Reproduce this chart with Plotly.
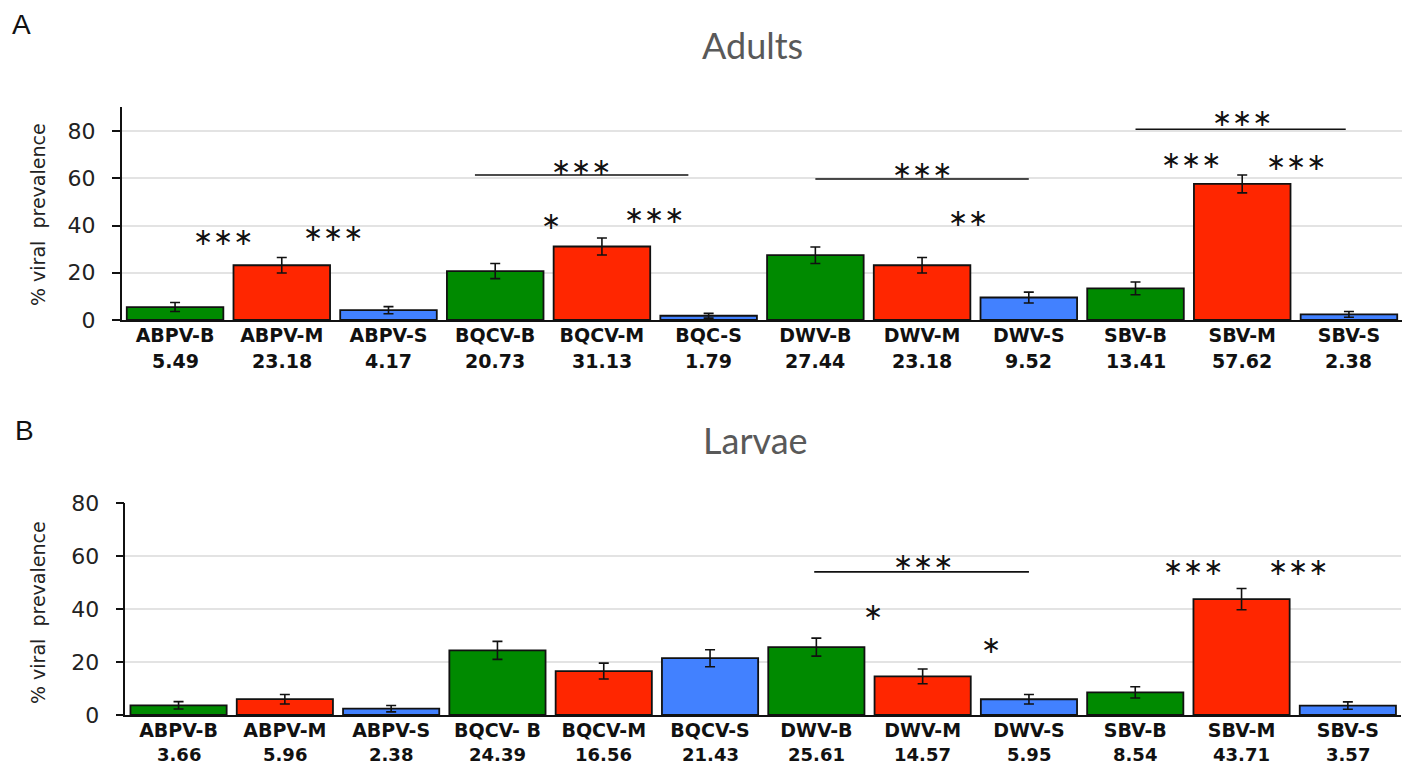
import plotly.graph_objects as go

# ---------------- data ----------------
adult_names = ["ABPV-B", "ABPV-M", "ABPV-S", "BQCV-B", "BQCV-M", "BQC-S",
               "DWV-B", "DWV-M", "DWV-S", "SBV-B", "SBV-M", "SBV-S"]
adult_values = [5.49, 23.18, 4.17, 20.73, 31.13, 1.79, 27.44, 23.18, 9.52, 13.41, 57.62, 2.38]
adult_err = [1.9, 3.3, 1.5, 3.2, 3.6, 1.0, 3.5, 3.3, 2.3, 2.7, 3.8, 1.2]

larvae_names = ["ABPV-B", "ABPV-M", "ABPV-S", "BQCV- B", "BQCV-M", "BQCV-S",
                "DWV-B", "DWV-M", "DWV-S", "SBV-B", "SBV-M", "SBV-S"]
larvae_values = [3.66, 5.96, 2.38, 24.39, 16.56, 21.43, 25.61, 14.57, 5.95, 8.54, 43.71, 3.57]
larvae_err = [1.4, 1.8, 1.2, 3.4, 3.0, 3.2, 3.4, 2.8, 1.8, 2.1, 4.0, 1.4]

groups = ["B", "M", "S", "B", "M", "S", "B", "M", "S", "B", "M", "S"]
group_colors = {"B": "#008a00", "M": "#ff2600", "S": "#4281ff"}

y_ticks = [0, 20, 40, 60, 80]

# significance marks: (x position in category units, y value, text)
adult_stars = [(0.45, 35, "∗∗∗"), (1.48, 37, "∗∗∗"), (3.52, 42, "∗"), (4.49, 44.4, "∗∗∗"),
               (3.8, 65, "∗∗∗"), (7.0, 63.5, "∗∗∗"), (7.43, 43.2, "∗∗"),
               (9.52, 67.7, "∗∗∗"), (10.5, 66.9, "∗∗∗"), (10.0, 85.5, "∗∗∗")]
adult_lines = [(2.81, 4.81, 61.4), (6.0, 8.0, 59.7), (9.0, 10.97, 80.8)]

larvae_stars = [(7.0, 57.7, "∗∗∗"), (6.53, 38.9, "∗"), (7.64, 26.4, "∗"),
                (9.54, 55.8, "∗∗∗"), (10.53, 55.8, "∗∗∗")]
larvae_lines = [(5.98, 8.0, 54.0)]

W, H = 1405, 766
FONT = "DejaVu Sans"

fig = go.Figure()

def add_panel(names, values, errs, xa, ya):
    idx = list(range(len(names)))
    fig.add_trace(go.Bar(
        x=idx, y=values, xaxis=xa, yaxis=ya,
        marker=dict(color=[group_colors[g] for g in groups],
                    line=dict(color="#111111", width=1.8)),
        error_y=dict(type="data", array=errs, visible=True,
                     color="#111111", thickness=1.6, width=5),
        showlegend=False, hoverinfo="x+y",
    ))

add_panel(adult_names, adult_values, adult_err, "x", "y")
add_panel(larvae_names, larvae_values, larvae_err, "x2", "y2")

def ypx(p):
    return 1 - p / H

axis_common = dict(showline=True, linecolor="#111111", linewidth=1.6, mirror=False, automargin=False)

fig.update_layout(
    width=W, height=H,
    margin=dict(l=0, r=0, t=0, b=0, pad=0),
    paper_bgcolor="white", plot_bgcolor="white",
    bargap=0.095,
    xaxis=dict(domain=[121.7 / W, 1402.3 / W], range=[-0.5, 11.5], anchor="y",
               tickvals=list(range(12)), ticktext=["<b>%s</b>" % n for n in adult_names],
               tickfont=dict(family=FONT, size=19, color="#111111"), ticks="",
               ticklabelstandoff=-3, showgrid=False, zeroline=False, **axis_common),
    yaxis=dict(domain=[ypx(320), ypx(107)], range=[0, 90.2], anchor="x",
               tickvals=y_ticks, tickfont=dict(family=FONT, size=22, color="#222222"),
               ticks="outside", ticklen=8, tickcolor="#111111", tickwidth=1.6,
               ticklabelstandoff=12,
               showgrid=True, gridcolor="#e3e3e3", gridwidth=1.5, zeroline=False, **axis_common),
    xaxis2=dict(domain=[125.4 / W, 1401.0 / W], range=[-0.5, 11.5], anchor="y2",
                tickvals=list(range(12)), ticktext=["<b>%s</b>" % n for n in larvae_names],
                tickfont=dict(family=FONT, size=19, color="#111111"), ticks="",
                ticklabelstandoff=-3, showgrid=False, zeroline=False, **axis_common),
    yaxis2=dict(domain=[ypx(715), ypx(503)], range=[0, 80], anchor="x2",
                tickvals=y_ticks, tickfont=dict(family=FONT, size=22, color="#222222"),
                ticks="outside", ticklen=8, tickcolor="#111111", tickwidth=1.6,
                ticklabelstandoff=12,
                showgrid=True, gridcolor="#e3e3e3", gridwidth=1.5, zeroline=False, **axis_common),
)

ann = []
shapes = []

# value labels under category names
for i, v in enumerate(adult_values):
    ann.append(dict(x=i, xref="x", y=ypx(361), yref="paper", text="<b>%.2f</b>" % v,
                    showarrow=False, font=dict(family=FONT, size=19, color="#111111"),
                    xanchor="center", yanchor="middle"))
for i, v in enumerate(larvae_values):
    ann.append(dict(x=i, xref="x2", y=0, yref="paper", text="<b>%.2f</b>" % v,
                    showarrow=False, font=dict(family=FONT, size=18, color="#111111"),
                    xanchor="center", yanchor="bottom", borderpad=0))

# stars and lines
for x, y, t in adult_stars:
    ann.append(dict(x=x, xref="x", y=y, yref="y", text=t, showarrow=False,
                    font=dict(family=FONT, size=24, color="#111111"),
                    xanchor="center", yanchor="middle"))
for x0, x1, y in adult_lines:
    shapes.append(dict(type="line", xref="x", yref="y", x0=x0, x1=x1, y0=y, y1=y,
                       line=dict(color="#111111", width=1.6)))
for x, y, t in larvae_stars:
    ann.append(dict(x=x, xref="x2", y=y, yref="y2", text=t, showarrow=False,
                    font=dict(family=FONT, size=24, color="#111111"),
                    xanchor="center", yanchor="middle"))
for x0, x1, y in larvae_lines:
    shapes.append(dict(type="line", xref="x2", yref="y2", x0=x0, x1=x1, y0=y, y1=y,
                       line=dict(color="#111111", width=1.6)))

# titles, panel letters, y-axis titles
ann.append(dict(x=752 / W, y=ypx(45), xref="paper", yref="paper", text="Adults",
                showarrow=False, font=dict(family="Lato", size=36, color="#595959"),
                xanchor="center", yanchor="middle"))
ann.append(dict(x=755 / W, y=ypx(440), xref="paper", yref="paper", text="Larvae",
                showarrow=False, font=dict(family="Lato", size=36, color="#595959"),
                xanchor="center", yanchor="middle"))
ann.append(dict(x=21 / W, y=ypx(25), xref="paper", yref="paper", text="A",
                showarrow=False, font=dict(family="Liberation Sans", size=28, color="#111111"),
                xanchor="center", yanchor="middle"))
ann.append(dict(x=24 / W, y=ypx(430), xref="paper", yref="paper", text="B",
                showarrow=False, font=dict(family="Liberation Sans", size=28, color="#111111"),
                xanchor="center", yanchor="middle"))
ann.append(dict(x=38 / W, y=ypx(215), xref="paper", yref="paper", text="% viral  prevalence",
                textangle=-90, showarrow=False, font=dict(family=FONT, size=19, color="#222222"),
                xanchor="center", yanchor="middle"))
ann.append(dict(x=38 / W, y=ypx(613), xref="paper", yref="paper", text="% viral  prevalence",
                textangle=-90, showarrow=False, font=dict(family=FONT, size=19, color="#222222"),
                xanchor="center", yanchor="middle"))

fig.update_layout(annotations=ann, shapes=shapes)

fig.write_html("out.html", config={"displayModeBar": False},
               post_script="document.body.style.margin='0';document.body.style.overflow='hidden';")
